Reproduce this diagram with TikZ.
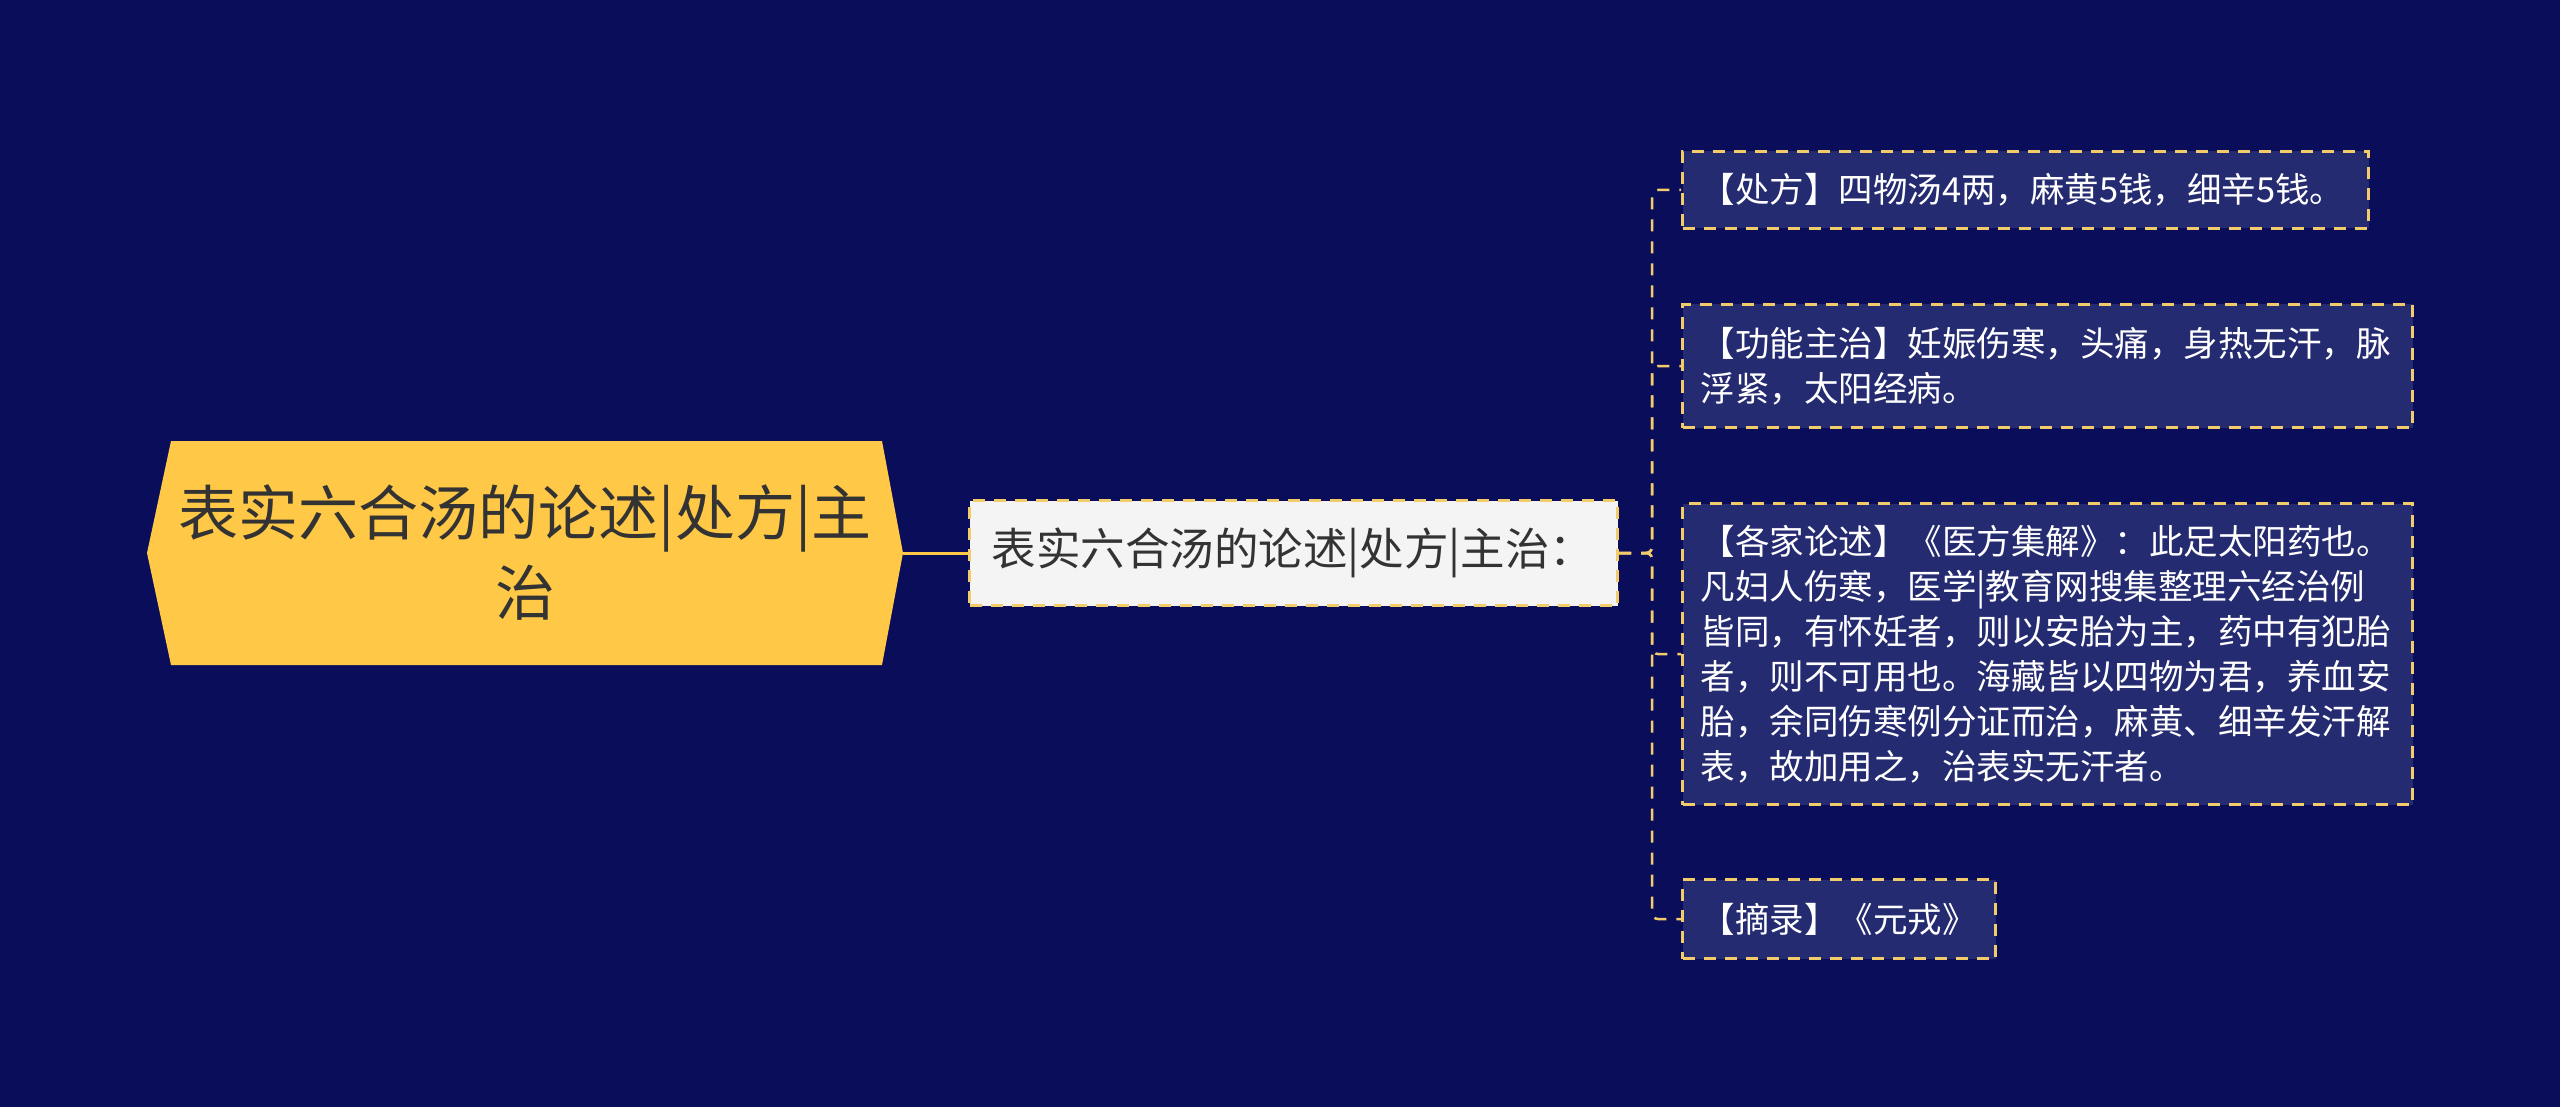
\documentclass[tikz,border=0pt]{standalone}
\usepackage{fontspec}
\setmainfont{Noto Sans CJK SC}
\definecolor{bg}{HTML}{0A0E5A}
\definecolor{rootfill}{HTML}{FFC847}
\definecolor{leaffill}{HTML}{252B70}
\definecolor{dashc}{HTML}{F2CB6B}
\definecolor{midfill}{HTML}{F4F4F4}
\definecolor{txtdark}{HTML}{333333}
\begin{document}
\begin{tikzpicture}[x=1pt,y=-1pt,
  box/.style={draw=dashc, line width=3pt, dash pattern=on 12pt off 9pt, inner ysep=0pt, anchor=north west, align=left},
  leafbox/.style={box, fill=leaffill, text=white, font=\fontsize{34.5}{45}\selectfont, inner xsep=18pt},
  conn/.style={draw=dashc, line width=2.5pt, dash pattern=on 12pt off 10pt, rounded corners=6pt},
  solidconn/.style={draw=rootfill, line width=3pt},
]
\fill[bg] (0,0) rectangle (2560,1107);
\useasboundingbox (0,0) rectangle (2560,1107);

% root
\fill[rootfill] (147,553) -- (171,441) -- (882,441) -- (903,553) -- (882,665) -- (171,665) -- cycle;
\node[font=\fontsize{60}{80}\selectfont, text=txtdark, align=center] (root) at (525,553) {表实六合汤的论述|处方|主\\治};
\coordinate (rootR) at (903,553);

% middle
\node[box, fill=midfill, text=txtdark, font=\fontsize{44.5}{50}\selectfont, anchor=west,
      minimum height=105pt, text width=604pt, inner xsep=22pt] (mid) at (968,553) {表实六合汤的论述|处方|主治：};

% leaves
\node[leafbox, text width=650pt, minimum height=77pt] (l1) at (1681,150) {【处方】四物汤4两，麻黄5钱，细辛5钱。};
\node[leafbox, text width=694pt, minimum height=123pt] (l2) at (1681,303) {【功能主治】妊娠伤寒，头痛，身热无汗，脉\\浮紧，太阳经病。};
\node[leafbox, text width=694pt, minimum height=301pt] (l3) at (1681,502) {【各家论述】《医方集解》：此足太阳药也。\\凡妇人伤寒，医学|教育网搜集整理六经治例\\皆同，有怀妊者，则以安胎为主，药中有犯胎\\者，则不可用也。海藏皆以四物为君，养血安\\胎，余同伤寒例分证而治，麻黄、细辛发汗解\\表，故加用之，治表实无汗者。};
\node[leafbox, text width=277pt, minimum height=79pt] (l4) at (1681,878) {【摘录】《元戎》};

% connectors
\draw[solidconn] (rootR) -- (mid.west);
\draw[conn] (mid.east) -- ++(33,0) |- (l1.west);
\draw[conn] (mid.east) -- ++(33,0) |- (l2.west);
\draw[conn] (mid.east) -- ++(33,0) |- (l3.west);
\draw[conn] (mid.east) -- ++(33,0) |- (l4.west);
\end{tikzpicture}
\end{document}
